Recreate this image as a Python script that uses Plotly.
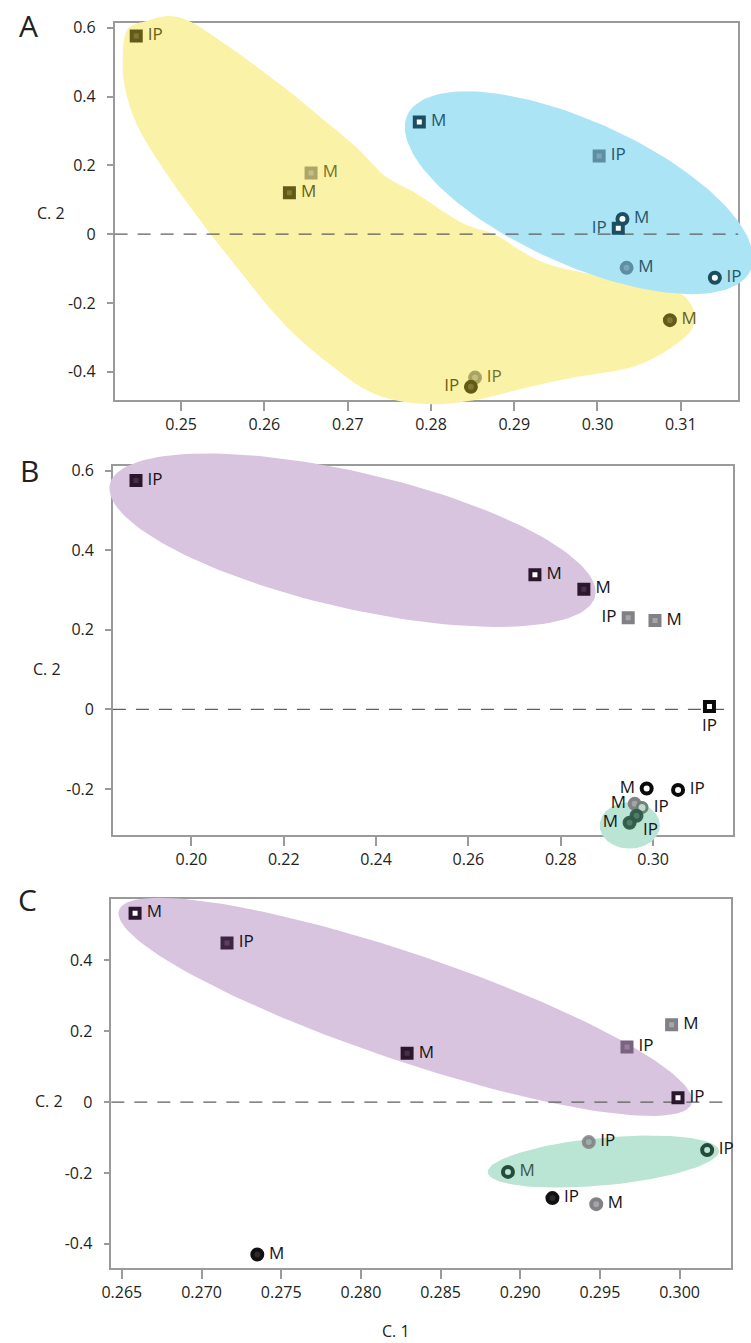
import numpy as np
import plotly.graph_objects as go

W, H = 751, 1343
FONT = "Open Sans"

# ---------------- data ----------------
# Panel A
a_x = [0.2446, 0.2656, 0.2630, 0.2786, 0.3002, 0.3030, 0.3025, 0.3035, 0.3141, 0.3087, 0.2853, 0.2848]
a_y = [0.576, 0.178, 0.120, 0.326, 0.227, 0.044, 0.017, -0.098, -0.127, -0.250, -0.417, -0.444]
a_lab = ["IP", "M", "M", "M", "IP", "M", "IP", "M", "IP", "M", "IP", "IP"]
a_kind = ["olive_sq", "olive_light_sq", "olive_sq", "blue_open_sq", "blue_light_sq", "blue_ring",
          "blue_open_sq", "blue_light_ci", "blue_ring", "olive_ci", "olive_light_ci", "olive_ci"]

# Panel B
b_x = [0.1880, 0.2744, 0.2850, 0.2946, 0.3004, 0.3122, 0.2986, 0.3054, 0.2960, 0.2976, 0.2964, 0.2949]
b_y = [0.575, 0.338, 0.302, 0.230, 0.223, 0.007, -0.199, -0.2025, -0.2375, -0.2467, -0.2675, -0.285]
b_lab = ["IP", "M", "M", "IP", "M", "IP", "M", "IP", "M", "IP", "IP", "M"]
b_kind = ["purple_sq", "purple_open_sq", "purple_sq", "gray_sq", "gray_sq", "black_open_sq",
          "black_ring", "black_ring", "gray_ci", "sage_ring", "green_ci", "green_ci"]

# Panel C
c_x = [0.26583, 0.2716, 0.2829, 0.2995, 0.2967, 0.2999, 0.2943, 0.30173, 0.28923, 0.29202, 0.29477, 0.2735]
c_y = [0.533, 0.4486, 0.1375, 0.218, 0.1555, 0.0124, -0.113, -0.1356, -0.197, -0.271, -0.288, -0.430]
c_lab = ["M", "IP", "M", "M", "IP", "IP", "IP", "IP", "M", "IP", "M", "M"]
c_kind = ["purple_open_sq", "plum_sq", "purple_sq", "gray_sq", "mauve_sq", "purple_open_sq",
          "gray_ci_soft", "green_ring", "green_ring", "black_ci", "gray_ci", "black_ci"]

# Group outlines (centre and two conjugate semi-diameters, in data units)
a_blue_c, a_blue_u, a_blue_v = (0.29777, 0.1203), (0.020912, -0.19039), (0.0, 0.22501)
b_purple_c, b_purple_u, b_purple_v = (0.23489, 0.425), (0.05265, -0.130), (0.0, 0.175)
b_green_c, b_green_u, b_green_v = (0.29494, -0.29175), (0.00652, 0.0), (0.0, 0.05825)
c_purple_c, c_purple_u, c_purple_v = (0.28279, 0.2686), (0.018002, -0.26386), (0.0, 0.15860)
c_green_c, c_green_u, c_green_v = (0.29522, -0.16786), (0.0072552, 0.029474), (0.0, 0.06737)

# Irregular outline of the yellow group in panel A
a_yellow_x = [0.24297, 0.24360, 0.24605, 0.24842, 0.25079, 0.25435, 0.26225, 0.26659, 0.27133, 0.27449,
              0.27804, 0.28397, 0.28791, 0.29069, 0.29384, 0.30095, 0.30687, 0.31024, 0.31161, 0.31142,
              0.30885, 0.30450, 0.29700, 0.29226, 0.28515, 0.27959, 0.27331, 0.26738, 0.26264, 0.25711,
              0.24842, 0.24467, 0.24329]
a_yellow_y = [0.4961, 0.5971, 0.6213, 0.6338, 0.6213, 0.5683, 0.4289, 0.3424, 0.2463, 0.1693,
              0.1211, 0.0300, -0.0038, -0.0471, -0.0854, -0.1241, -0.1480, -0.1769, -0.2250, -0.2729,
              -0.3306, -0.3837, -0.4172, -0.4414, -0.4826, -0.4941, -0.4653, -0.3693, -0.2683, -0.1097,
              0.1693, 0.3184, 0.4194]

# Axis ticks
a_xticks = [0.25, 0.26, 0.27, 0.28, 0.29, 0.30, 0.31]
a_xtext = ["0.25", "0.26", "0.27", "0.28", "0.29", "0.30", "0.31"]
a_yticks = [-0.4, -0.2, 0.0, 0.2, 0.4, 0.6]
a_ytext = ["-0.4", "-0.2", "0", "0.2", "0.4", "0.6"]
b_xticks = [0.20, 0.22, 0.24, 0.26, 0.28, 0.30]
b_xtext = ["0.20", "0.22", "0.24", "0.26", "0.28", "0.30"]
b_yticks = [-0.2, 0.0, 0.2, 0.4, 0.6]
b_ytext = ["-0.2", "0", "0.2", "0.4", "0.6"]
c_xticks = [0.265, 0.270, 0.275, 0.280, 0.285, 0.290, 0.295, 0.300]
c_xtext = ["0.265", "0.270", "0.275", "0.280", "0.285", "0.290", "0.295", "0.300"]
c_yticks = [-0.4, -0.2, 0.0, 0.2, 0.4]
c_ytext = ["-0.4", "-0.2", "0", "0.2", "0.4"]

# ---------------- styling ----------------
OLIVE_TXT = "rgb(104,97,30)"
BLUE_TXT = "rgb(38,88,108)"
DARK_TXT = "rgb(22,20,22)"

# symbol, fill, outline colour, outline width, size, label colour
STYLE = {
    "olive_sq":        ("square", "rgb(128,120,52)", "rgb(98,91,24)", 4, 9, OLIVE_TXT),
    "olive_light_sq":  ("square", "rgb(196,191,132)", "rgb(172,166,104)", 4, 9, "rgb(120,113,42)"),
    "olive_ci":        ("circle", "rgb(128,120,52)", "rgb(98,91,24)", 4, 10, OLIVE_TXT),
    "olive_light_ci":  ("circle", "rgba(190,184,120,0.9)", "rgba(165,158,92,0.9)", 4, 10, "rgb(120,113,42)"),
    "blue_open_sq":    ("square", "white", "rgb(28,78,98)", 4, 9, BLUE_TXT),
    "blue_light_sq":   ("square", "rgb(122,166,184)", "rgb(94,142,162)", 4, 9, BLUE_TXT),
    "blue_ring":       ("circle", "white", "rgb(28,78,98)", 4, 10, BLUE_TXT),
    "blue_light_ci":   ("circle", "rgb(122,166,184)", "rgb(94,142,162)", 4, 10, BLUE_TXT),
    "purple_sq":       ("square", "rgb(72,46,74)", "rgb(44,22,46)", 4, 9, DARK_TXT),
    "plum_sq":         ("square", "rgb(92,66,96)", "rgb(62,36,66)", 4, 9, DARK_TXT),
    "purple_open_sq":  ("square", "white", "rgb(44,22,46)", 4, 9, DARK_TXT),
    "mauve_sq":        ("square", "rgb(152,128,156)", "rgb(122,98,128)", 4, 9, DARK_TXT),
    "gray_sq":         ("square", "rgb(165,165,170)", "rgb(128,128,133)", 4, 9, DARK_TXT),
    "black_open_sq":   ("square", "white", "rgb(10,10,10)", 4, 9, DARK_TXT),
    "black_ring":      ("circle", "white", "rgb(10,10,10)", 4, 10, DARK_TXT),
    "gray_ci":         ("circle", "rgb(165,165,168)", "rgb(130,130,134)", 4, 10, DARK_TXT),
    "gray_ci_soft":    ("circle", "rgba(150,162,158,0.85)", "rgba(128,128,130,0.85)", 4, 10, DARK_TXT),
    "sage_ring":       ("circle", "rgb(200,212,206)", "rgb(104,132,118)", 3, 10, DARK_TXT),
    "green_ci":        ("circle", "rgba(74,118,98,0.95)", "rgba(46,92,72,0.95)", 4, 10, DARK_TXT),
    "green_ring":      ("circle", "rgba(0,0,0,0)", "rgb(36,76,58)", 4, 10, DARK_TXT),
    "black_ci":        ("circle", "rgb(45,42,44)", "rgb(18,16,18)", 4, 10, DARK_TXT),
}
LABEL_GAP_SIZE = 17  # invisible marker that sets the label offset

a_tpos = ["middle right"] * 12
a_tpos[6] = "middle left"
a_tpos[11] = "middle left"
b_tpos = ["middle right"] * 12
b_tpos[3] = "middle left"
b_tpos[5] = "bottom center"
b_tpos[6] = "middle left"
b_tpos[8] = "middle left"
b_tpos[10] = "bottom right"
b_tpos[11] = "middle left"
b_gap = {8: 12, 10: 9, 11: 17}
c_tpos = ["middle right"] * 12
c_txtcol = {8: "rgb(60,88,76)"}

YELLOW = "rgb(250,243,167)"
BLUE = "rgb(170,228,245)"
PURPLE = "rgb(216,196,223)"
GREEN = "rgb(186,228,211)"

# panel frames in pixels: left, top, right, bottom
panels = [
    dict(box=(106, 16, 738, 395), xr=(0.2420, 0.3169), yr=(-0.482, 0.614),
         xt=(a_xticks, a_xtext), yt=(a_yticks, a_ytext),
         pts=(a_x, a_y, a_lab, a_kind, a_tpos, {}, {})),
    dict(box=(104.3, 461, 732.3, 832.7), xr=(0.1830, 0.3172), yr=(-0.3167, 0.6125),
         xt=(b_xticks, b_xtext), yt=(b_yticks, b_ytext),
         pts=(b_x, b_y, b_lab, b_kind, b_tpos, {}, b_gap)),
    dict(box=(102.7, 896.7, 730.3, 1267.7), xr=(0.26434, 0.3032), yr=(-0.4685, 0.573),
         xt=(c_xticks, c_xtext), yt=(c_yticks, c_ytext),
         pts=(c_x, c_y, c_lab, c_kind, c_tpos, c_txtcol, {})),
]

hulls = [
    [("poly", a_yellow_x, a_yellow_y, YELLOW), ("ell", a_blue_c, a_blue_u, a_blue_v, BLUE)],
    [("ell", b_purple_c, b_purple_u, b_purple_v, PURPLE), ("ell", b_green_c, b_green_u, b_green_v, GREEN)],
    [("ell", c_purple_c, c_purple_u, c_purple_v, PURPLE), ("ell", c_green_c, c_green_u, c_green_v, GREEN)],
]


def ellipse_xy(c, u, v, n=160):
    t = np.linspace(0, 2 * np.pi, n)
    return (c[0] + u[0] * np.cos(t) + v[0] * np.sin(t),
            c[1] + u[1] * np.cos(t) + v[1] * np.sin(t))


fig = go.Figure()
layout = dict(width=W, height=H, margin=dict(l=0, r=0, t=0, b=0),
              paper_bgcolor="white", plot_bgcolor="rgba(0,0,0,0)", showlegend=False,
              font=dict(family=FONT, size=16, color="#231f20"))
annotations = []
PAD = 24  # extra room (px) for the group outlines around each frame

for i, p in enumerate(panels):
    L, T, R, B = p["box"]
    n_main = i + 1
    n_over = i + 4
    dx = [L / W, R / W]
    dy = [1 - B / H, 1 - T / H]
    ax_common = dict(showgrid=False, zeroline=False, showline=True, mirror=True,
                     linecolor="#9a9a9a", linewidth=1.5, ticks="outside",
                     tickcolor="#9a9a9a", tickwidth=1.5,
                     tickfont=dict(family=FONT, size=16, color="#231f20"),
                     fixedrange=True)
    layout[f"xaxis{n_main}"] = dict(ax_common, domain=dx, range=list(p["xr"]),
                                    anchor=f"y{n_main}", ticklen=9,
                                    tickmode="array", tickvals=p["xt"][0], ticktext=p["xt"][1])
    layout[f"yaxis{n_main}"] = dict(ax_common, domain=dy, range=list(p["yr"]),
                                    anchor=f"x{n_main}", ticklen=6, ticklabelstandoff=8,
                                    tickmode="array", tickvals=p["yt"][0], ticktext=p["yt"][1])
    fig.add_trace(go.Scatter(x=[None], y=[None], xaxis=f"x{n_main}", yaxis=f"y{n_main}",
                             hoverinfo="skip"))

    # larger invisible axes with the same scale, so outlines may spill past the frame
    lpx, rpx = min(PAD, L), min(PAD, W - R)
    tpx, bpx = min(PAD, T), min(PAD, H - B)
    xs = (p["xr"][1] - p["xr"][0]) / (R - L)
    ys = (p["yr"][1] - p["yr"][0]) / (B - T)
    layout[f"xaxis{n_over}"] = dict(visible=False, fixedrange=True, anchor=f"y{n_over}",
                                    domain=[(L - lpx) / W, (R + rpx) / W],
                                    range=[p["xr"][0] - lpx * xs, p["xr"][1] + rpx * xs])
    layout[f"yaxis{n_over}"] = dict(visible=False, fixedrange=True, anchor=f"x{n_over}",
                                    domain=[1 - (B + bpx) / H, 1 - (T - tpx) / H],
                                    range=[p["yr"][0] - bpx * ys, p["yr"][1] + tpx * ys])
    xa, ya = f"x{n_over}", f"y{n_over}"

    for h in hulls[i]:
        if h[0] == "poly":
            hx, hy, col = list(h[1]) + [h[1][0]], list(h[2]) + [h[2][0]], h[3]
            shape = "spline"
        else:
            hx, hy = ellipse_xy(h[1], h[2], h[3])
            col = h[4]
            shape = "linear"
        fig.add_trace(go.Scatter(x=hx, y=hy, xaxis=xa, yaxis=ya, mode="lines",
                                 line=dict(width=0, color=col, shape=shape),
                                 fill="toself", fillcolor=col, hoverinfo="skip"))

    # dashed reference line at C.2 = 0
    fig.add_trace(go.Scatter(x=[p["xr"][0], p["xr"][1]], y=[0, 0], xaxis=xa, yaxis=ya,
                             mode="lines", hoverinfo="skip",
                             line=dict(color="rgb(95,95,95)", width=1.3, dash="13px,10px")))

    px_, py_, lab, kind, tpos, tcol, gaps = p["pts"]
    for j in range(len(px_)):
        sym, fillc, linec, lw, sz, txtc = STYLE[kind[j]]
        fig.add_trace(go.Scatter(
            x=[px_[j]], y=[py_[j]], xaxis=xa, yaxis=ya, mode="markers",
            marker=dict(symbol=sym, size=sz, color=fillc, line=dict(color=linec, width=lw)),
            cliponaxis=False, hoverinfo="skip"))
        fig.add_trace(go.Scatter(
            x=[px_[j]], y=[py_[j]], xaxis=xa, yaxis=ya, mode="markers+text",
            text=[lab[j]], textposition=tpos[j],
            textfont=dict(family=FONT, size=17, color=tcol.get(j, txtc)),
            marker=dict(size=gaps.get(j, LABEL_GAP_SIZE), color="rgba(0,0,0,0)"),
            cliponaxis=False, hoverinfo="skip"))

    ylab_y = {0: 207, 1: 665, 2: 1100}[i]
    ylab_x = {0: 42, 1: 37, 2: 40}[i]
    annotations.append(dict(text="C. 2", x=ylab_x / W, y=1 - ylab_y / H, xref="paper", yref="paper",
                            showarrow=False, xanchor="center", yanchor="middle",
                            font=dict(family=FONT, size=16, color="#231f20")))

for letter, (lx, ly) in zip(["A", "B", "C"], [(19, 19), (19.5, 466), (17.5, 897)]):
    annotations.append(dict(text=letter, x=lx / W, y=1 - ly / H, xref="paper", yref="paper",
                            showarrow=False, xanchor="center", yanchor="middle",
                            font=dict(family=FONT, size=30, color="#231f20")))

annotations.append(dict(text="C. 1", x=391 / W, y=1 - 1331 / H, xref="paper", yref="paper",
                        showarrow=False, xanchor="center", yanchor="middle",
                        font=dict(family=FONT, size=16, color="#231f20")))

layout["annotations"] = annotations
fig.update_layout(**layout)
fig.write_html("out.html",
               post_script="document.body.style.margin='0';document.body.style.overflow='hidden';")
